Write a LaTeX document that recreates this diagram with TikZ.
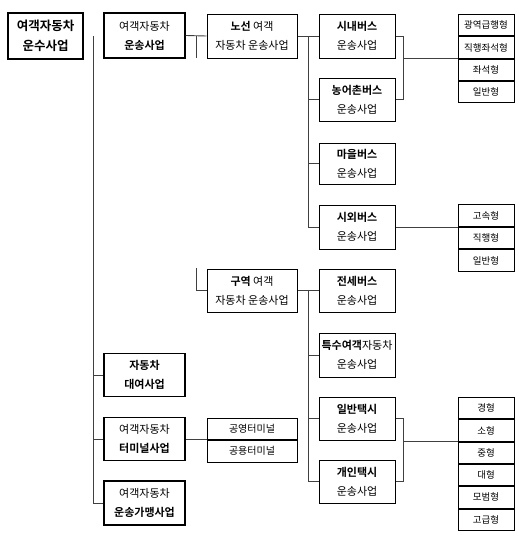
\documentclass[tikz,border=0pt]{standalone}
\usepackage{fontspec}
\setmainfont{Noto Sans CJK KR}[BoldFont={Noto Sans CJK KR Bold}]
\begin{document}
\begin{tikzpicture}[x=1pt,y=-1pt,
  box/.style={draw=black, line width=1pt, rectangle, inner sep=0pt, align=center,
    font=\fontsize{11}{19}\selectfont},
  rootbox/.style={box, line width=2.6pt, minimum width=75pt, minimum height=46pt,
    font=\fontsize{12.5}{20}\selectfont},
  leftbox/.style={box, line width=1.8pt, minimum width=81pt, minimum height=43pt},
  midbox/.style={box, minimum width=90pt, minimum height=44pt},
  busbox/.style={box, minimum width=76pt, minimum height=43pt},
  cell/.style={box, minimum width=56pt, minimum height=21.3pt, font=\fontsize{9.5}{11}\selectfont},
  tcell/.style={box, minimum width=90pt, minimum height=21.5pt, font=\fontsize{10}{11}\selectfont},
  conn/.style={draw=black!75, line width=0.9pt}]
\useasboundingbox (0,0) rectangle (523,538);
\fill[white] (0,0) rectangle (523,538);

% left column
\node[rootbox] (root) at (45.5,36) {\textbf{여객자동차}\\\textbf{운수사업}};
\node[leftbox, line width=1.4pt, minimum height=45pt] (unsong) at (144.5,35.5) {여객자동차\\\textbf{운송사업}};
\node[leftbox] (daeyeo) at (144.5,375) {\textbf{자동차}\\\textbf{대여사업}};
\node[leftbox] (terminal) at (144.5,439) {여객자동차\\\textbf{터미널사업}};
\node[leftbox, minimum height=44pt] (gamaeng) at (144.5,503) {여객자동차\\\textbf{운송가맹사업}};

% middle column
\node[midbox] (noseon) at (252,36) {\textbf{노선} 여객\\자동차 운송사업};
\node[midbox, minimum height=43pt] (guyeok) at (252,290.5) {\textbf{구역} 여객\\자동차 운송사업};
\node[tcell, anchor=south] (t1) at (252,440) {공영터미널};
\node[tcell, anchor=north] (t2) at (t1.south) {공용터미널};

% bus / taxi column
\node[busbox, minimum height=44pt] (sinae) at (357,36) {\textbf{시내버스}\\운송사업};
\node[busbox] (nong) at (357,99.5) {\textbf{농어촌버스}\\운송사업};
\node[busbox, minimum height=41pt] (maeul) at (357,163.5) {\textbf{마을버스}\\운송사업};
\node[busbox, minimum height=44pt] (sioe) at (357,227) {\textbf{시외버스}\\운송사업};
\node[busbox] (jeonse) at (357,290.5) {\textbf{전세버스}\\운송사업};
\node[busbox, minimum height=44pt] (teuksu) at (357,355) {\textbf{특수여객}자동차\\운송사업};
\node[busbox] (ilban) at (357,418.5) {\textbf{일반택시}\\운송사업};
\node[busbox] (gaein) at (357,481.5) {\textbf{개인택시}\\운송사업};

% right stacks
\node[cell, anchor=north] (c1) at (486,14) {광역급행형};
\node[cell, anchor=north] (c2) at (c1.south) {직행좌석형};
\node[cell, anchor=north] (c3) at (c2.south) {좌석형};
\node[cell, anchor=north] (c4) at (c3.south) {일반형};

\node[cell, anchor=south, minimum height=22pt] (d1) at (486,227) {고속형};
\node[cell, anchor=north] (d2) at (d1.south) {직행형};
\node[cell, anchor=north] (d3) at (d2.south) {일반형};

\node[cell, anchor=north] (e1) at (486,397) {경형};
\node[cell, anchor=north] (e2) at (e1.south) {소형};
\node[cell, anchor=north] (e3) at (e2.south) {중형};
\node[cell, anchor=north] (e4) at (e3.south) {대형};
\node[cell, anchor=north] (e5) at (e4.south) {모범형};
\node[cell, anchor=north] (e6) at (e5.south) {고급형};

% helper coordinates
\coordinate (trunk) at (93,36);
\coordinate (s1top) at (196,58);
\coordinate (s1bot) at (196,268);
\coordinate (s2) at (308,0);
\coordinate (bx) at (403,0);

% trunk
\draw[conn] (trunk) |- (gamaeng.west);
\draw[conn] (daeyeo.west -| trunk) -- (daeyeo.west);
\draw[conn] (terminal.west -| trunk) -- (terminal.west);

% 운송사업 -> 노선 / 구역
\draw[conn] (unsong.east) -- (noseon.west);
\draw[conn] (unsong.east -| s1top) -- (s1top);
\draw[conn] (s1bot) |- (guyeok.west);

% 노선 -> buses
\draw[conn] (noseon.east) -- (sinae.west);
\draw[conn] (noseon.east -| s2) |- (sioe.west);
\draw[conn] (nong.west -| s2) -- (nong.west);
\draw[conn] (maeul.west -| s2) -- (maeul.west);

% 구역 -> others
\draw[conn] (guyeok.east) -- (jeonse.west);
\draw[conn] (guyeok.east -| s2) |- (gaein.west);
\draw[conn] (teuksu.west -| s2) -- (teuksu.west);
\draw[conn] (ilban.west -| s2) -- (ilban.west);

% brackets to stacks
\draw[conn] (sinae.east) -| (bx |- nong.east) -- (nong.east);
\draw[conn] (c2.south west -| bx) -- (c2.south west);
\draw[conn] (sioe.east) -- (d1.south west);
\draw[conn] (ilban.east) -| (bx |- gaein.east) -- (gaein.east);
\draw[conn] (e2.south west -| bx) -- (e2.south west);

% terminal -> list
\draw[conn] (terminal.east) -- (terminal.east -| t1.west);
\end{tikzpicture}
\end{document}
